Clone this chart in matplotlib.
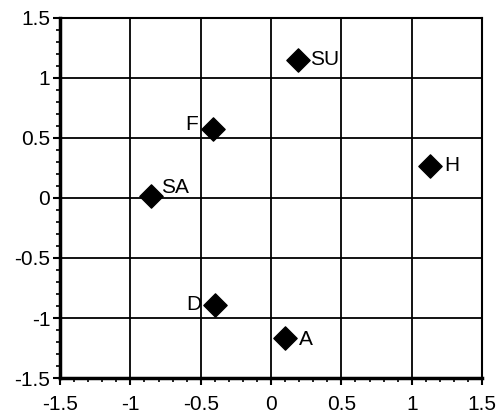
import matplotlib
matplotlib.use("Agg")
import matplotlib.pyplot as plt
from matplotlib.ticker import MultipleLocator

labels = ["SU", "F", "H", "SA", "D", "A"]
xs = [0.19, -0.41, 1.13, -0.85, -0.40, 0.10]
ys = [1.15, 0.575, 0.27, 0.02, -0.89, -1.17]
ticks = [-1.5, -1, -0.5, 0, 0.5, 1, 1.5]
tick_labels = ["-1.5", "-1", "-0.5", "0", "0.5", "1", "1.5"]

# label placement: offset in points and alignment
offsets = {"SU": (9, 0, "left"), "F": (-11, 3, "right"), "H": (10, 0, "left"),
           "SA": (7, 6, "left"), "D": (-10, 0, "right"), "A": (10, -1, "left")}

plt.rcParams['font.family'] = ['Liberation Sans', 'DejaVu Sans']

fig = plt.figure(figsize=(4.96, 4.15), dpi=100)
ax = fig.add_axes([0.121, 0.089, 0.851, 0.868])

ax.scatter(xs, ys, marker="D", s=140, color="black", zorder=3)
for lab, x, y in zip(labels, xs, ys):
    dx, dy, ha = offsets[lab]
    ax.annotate(lab, (x, y), xytext=(dx, dy), textcoords="offset points",
                ha=ha, va="center", fontsize=15)

ax.set_xlim(-1.5, 1.5)
ax.set_ylim(-1.5, 1.5)
ax.set_xticks(ticks)
ax.set_xticklabels(tick_labels)
ax.set_yticks(ticks)
ax.set_yticklabels(tick_labels)
ax.xaxis.set_minor_locator(MultipleLocator(0.1))
ax.yaxis.set_minor_locator(MultipleLocator(0.1))
ax.tick_params(which="major", length=5, width=1.5, labelsize=15, pad=2)
ax.tick_params(axis="x", which="major", pad=7)
ax.tick_params(which="minor", length=3, width=1.2)
ax.grid(True, which="major", color="black", linewidth=1.3)
for s in ax.spines.values():
    s.set_linewidth(1.5)
ax.spines["left"].set_linewidth(2.5)
ax.spines["bottom"].set_linewidth(2.5)

fig.savefig("out.png", dpi=100)
